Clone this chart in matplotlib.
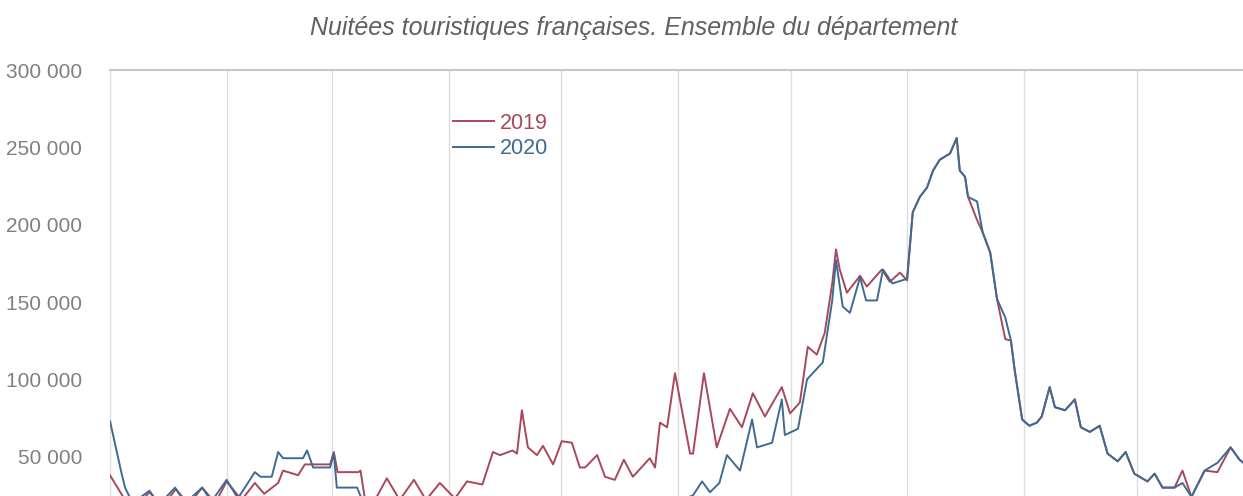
import numpy as np
import pandas as pd
import matplotlib
matplotlib.use("Agg")
import matplotlib.pyplot as plt
from matplotlib.ticker import FuncFormatter

plt.rcParams['font.family'] = ['Liberation Sans', 'DejaVu Sans']

# jour de l'annee (0 = 1er janvier) et nuitees
jours_2019 = [0, 2, 4, 7, 10.5, 14, 17.5, 21, 24.5, 28, 31, 35, 38.5, 41, 44.7, 46, 50, 51.8,
              54, 58.5, 59.5, 60.5, 66, 66.6, 67.8, 70, 73.6, 77, 80.8, 84, 87.7, 91.7, 94.9,
              99, 101.8, 103.7, 107, 108.2, 109.5, 111.1, 113.5, 115.1, 117.8, 120.1, 122.8,
              124.9, 126.3, 129.5, 131.6, 134.2, 136.6, 139, 143.5, 144.9, 146.2, 148.1, 150.2,
              154.2, 155, 157.9, 161.3, 164.8, 168, 170.9, 174.1, 178.6, 180.8, 183.4, 185.5,
              187.9, 190, 192, 193, 194, 195.9, 199.4, 201.2, 205.2, 207.3, 210, 211.9, 213.4,
              215.3, 217.2, 218.8, 220.6, 223.3, 225.1, 225.9, 227.3, 228.1, 230.5, 232, 234,
              235.8, 238, 239.5, 240.5, 242.5, 244.4, 246.4, 247.7, 249.8, 251.2, 253.9, 256.5,
              258.1, 260.5, 263.1, 265.2, 267.9, 270, 272.3, 275.8, 277.7, 279.8, 283, 285.1,
              287.5, 291, 294.4, 297.9, 300.3, 302.9]
nuitees_2019 = [38000, 30000, 22000, 18000, 27000, 18000, 29000, 19000, 30000, 20000, 34000,
                22000, 33000, 26000, 33000, 41000, 38000, 45000, 45000, 45000, 53000, 40000,
                40000, 41000, 22000, 20000, 36000, 22000, 35000, 22000, 33000, 23000, 34000,
                32000, 53000, 51000, 54000, 52000, 80000, 56000, 51000, 57000, 45000, 60000,
                59000, 43000, 43000, 51000, 37000, 35000, 48000, 37000, 49000, 43000, 72000,
                69000, 104000, 52000, 52000, 104000, 56000, 81000, 69000, 91000, 76000, 95000,
                78000, 85000, 121000, 116000, 130000, 162000, 184000, 171000, 156000, 167000,
                160000, 171000, 163000, 169000, 164000, 208000, 218000, 224000, 235000, 242000,
                246000, 256000, 235000, 231000, 218000, 203000, 195000, 182000, 152000, 126000,
                125000, 106000, 74000, 70000, 72000, 76000, 95000, 82000, 80000, 87000, 69000,
                66000, 70000, 52000, 47000, 53000, 39000, 34000, 39000, 30000, 30000, 41000,
                24000, 41000, 40000, 56000, 48000, 43000]

jours_2020 = [0, 1, 3, 4, 6, 10.5, 13, 17.3, 20, 24.5, 27, 31, 34, 38.5, 40, 43, 44.7, 46,
              51.3, 52.4, 54, 58.5, 59.5, 60.3, 65.7, 67, 72, 78, 90, 110, 131, 140, 148, 155,
              157.4, 159.5, 162, 164, 167.5, 170.7, 172, 176, 178.6, 179.4, 182.9, 185.3, 189.5,
              192, 193, 194.8, 196.7, 199.4, 201, 203.9, 205.5, 208, 211.9, 213.4, 215.3, 217.2,
              218.8, 220.6, 223.3, 225.1, 225.9, 227.3, 228.1, 230.5, 232, 234, 235.8, 238,
              239.5, 240.5, 242.5, 244.4, 246.4, 247.7, 249.8, 251.2, 253.9, 256.5, 258.1,
              260.5, 263.1, 265.2, 267.9, 270, 272.3, 275.8, 277.7, 279.8, 283, 285.1, 287.5,
              291, 294.4, 297.9, 300.3, 302.9]
nuitees_2020 = [73000, 62000, 40000, 30000, 20000, 28000, 19000, 30000, 20000, 30000, 21000,
                35000, 23000, 40000, 37000, 37000, 53000, 49000, 49000, 54000, 43000, 43000,
                52000, 30000, 30000, 22000, 15000, 6000, 4000, 4000, 6000, 12000, 18000, 25000,
                34000, 27000, 33000, 51000, 41000, 74000, 56000, 59000, 87000, 64000, 68000,
                100000, 111000, 151000, 177000, 147000, 143000, 166000, 151000, 151000, 171000,
                162000, 165000, 208000, 218000, 224000, 235000, 242000, 246000, 256000, 235000,
                231000, 218000, 215000, 195000, 182000, 152000, 140000, 125000, 106000, 74000,
                70000, 72000, 76000, 95000, 82000, 80000, 87000, 69000, 66000, 70000, 52000,
                47000, 53000, 39000, 34000, 39000, 30000, 30000, 33000, 24000, 41000, 46000,
                56000, 48000, 43000]

mois = pd.date_range("2019-01-01", "2019-12-01", freq="MS")
debut_mois = (mois - mois[0]).days

c2019 = "#a8485a"
c2020 = "#3d6b96"

fig = plt.figure(figsize=(12.43, 4.96), dpi=100)
ax = fig.add_axes([110 / 1243, -38 / 496, 1133 / 1243, 464 / 496])

ax.plot(jours_2019, nuitees_2019, color=c2019, lw=1.4, label="2019")
ax.plot(jours_2020, nuitees_2020, color=c2020, lw=1.4, label="2020")

ax.set_yticks(np.arange(50000, 300001, 50000))
ax.yaxis.set_major_formatter(FuncFormatter(lambda v, p: f"{int(v):,}".replace(",", " ")))
ax.set_xticks(debut_mois)
ax.set_ylim(0, 300000)
ax.set_xlim(0, 301.2)
ax.tick_params(axis="x", length=0, labelbottom=False)
ax.tick_params(axis="y", length=0, pad=20, labelsize=15, labelcolor="#808080")
ax.grid(axis="x", color="#dddddd", lw=1)
for s in ["left", "right", "bottom"]:
    ax.spines[s].set_visible(False)
ax.spines["top"].set_color("#c8c8c8")
ax.spines["top"].set_linewidth(1.5)

leg = ax.legend(loc="upper left", bbox_to_anchor=(442 / 1243, 1 - 102 / 496),
                bbox_transform=fig.transFigure, frameon=False, fontsize=15.5,
                handlelength=1.9, handletextpad=0.3, labelspacing=0.2, borderpad=0)
for txt, c in zip(leg.get_texts(), [c2019, c2020]):
    txt.set_color(c)

fig.text(634 / 1243, 1 - 28 / 496, "Nuitées touristiques françaises. Ensemble du département",
         ha="center", va="center", fontsize=18, style="italic", color="#606060")

fig.savefig("out.png", dpi=100)
